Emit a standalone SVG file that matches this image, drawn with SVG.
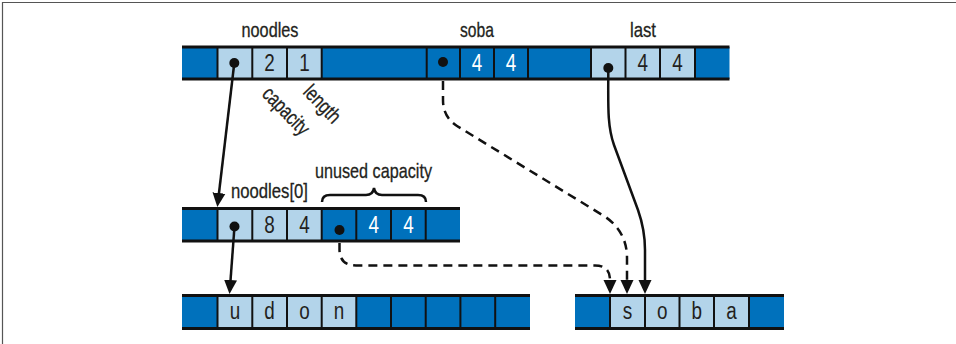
<svg xmlns="http://www.w3.org/2000/svg" width="956" height="344" viewBox="0 0 956 344">
<style>
.dk{fill:#0071bc}
.lt{fill:#b3d4ea}
.hl{stroke:#111;stroke-width:3;fill:none}
.dv{stroke:#111;stroke-width:2;fill:none}
.lbl{font-family:"Liberation Sans",Arial,sans-serif;font-size:21px;fill:#231f20;stroke:#231f20;stroke-width:0.3}
.cell{font-family:"Liberation Sans",Arial,sans-serif;font-size:23px;fill:#231f20;text-anchor:middle}
.wt{fill:#ffffff}
.dot{fill:#111}
.con{stroke:#111;stroke-width:2.5;fill:none}
.dash{stroke-dasharray:9 6}
</style>
<defs>
<marker id="ah" markerUnits="userSpaceOnUse" markerWidth="14" markerHeight="14" viewBox="0 0 14 14" refX="10" refY="7" orient="auto">
<path d="M0,0.5 L14,7 L0,13.5 z" fill="#111"/>
</marker>
</defs>
<rect x="0" y="0" width="956" height="344" fill="#ffffff"/>
<path d="M2.5,344 V2.5 H956" stroke="#555" stroke-width="1.2" fill="none"/>

<g id="stack">
<rect class="dk" x="182" y="47" width="547.5" height="32"/>
<rect class="lt" x="217.5" y="47" width="104.2" height="32"/>
<rect class="lt" x="591" y="47" width="104" height="32"/>
<path class="dv" d="M217.5,47V79M252.3,47V79M287,47V79M321.7,47V79M426.7,47V79M460,47V79M494,47V79M528,47V79M591,47V79M625.5,47V79M660,47V79M695,47V79"/>
<path class="hl" d="M182,47H729.5M182,79H729.5"/>
<text class="lbl" x="270" y="37" text-anchor="middle" textLength="57" lengthAdjust="spacingAndGlyphs">noodles</text>
<text class="lbl" x="477" y="37" text-anchor="middle" textLength="34" lengthAdjust="spacingAndGlyphs">soba</text>
<text class="lbl" x="643" y="37" text-anchor="middle" textLength="26" lengthAdjust="spacingAndGlyphs">last</text>
<circle class="dot" cx="234.3" cy="63" r="5"/>
<text class="cell" x="269.6" y="71" textLength="10.5" lengthAdjust="spacingAndGlyphs">2</text>
<text class="cell" x="304.4" y="71" textLength="10.5" lengthAdjust="spacingAndGlyphs">1</text>
<circle class="dot" cx="443" cy="62" r="5"/>
<text class="cell wt" x="477" y="71" textLength="10.5" lengthAdjust="spacingAndGlyphs">4</text>
<text class="cell wt" x="511" y="71" textLength="10.5" lengthAdjust="spacingAndGlyphs">4</text>
<circle class="dot" cx="608.3" cy="68" r="5"/>
<text class="cell" x="642.7" y="71" textLength="10.5" lengthAdjust="spacingAndGlyphs">4</text>
<text class="cell" x="677.5" y="71" textLength="10.5" lengthAdjust="spacingAndGlyphs">4</text>
<text class="lbl" transform="translate(261,95) rotate(46)" textLength="58" lengthAdjust="spacingAndGlyphs">capacity</text>
<text class="lbl" transform="translate(302,93) rotate(46)" textLength="44" lengthAdjust="spacingAndGlyphs">length</text>
</g>

<g id="noodles-buffer">
<rect class="dk" x="182" y="208.5" width="278" height="32.5"/>
<rect class="lt" x="217.5" y="208.5" width="104.2" height="32.5"/>
<path class="dv" d="M217.5,208.5V241M252.3,208.5V241M287,208.5V241M321.7,208.5V241M356.3,208.5V241M391,208.5V241M425.7,208.5V241"/>
<path class="hl" d="M182,208.5H460M182,241H460"/>
<text class="lbl" x="231" y="198" textLength="77" lengthAdjust="spacingAndGlyphs">noodles[0]</text>
<text class="lbl" x="315" y="178" textLength="117" lengthAdjust="spacingAndGlyphs">unused capacity</text>
<path d="M322,202 Q322,195 330,195 L366,195 Q373,195 374,188 Q375,195 382,195 L418,195 Q426,195 426,202" stroke="#111" stroke-width="2.5" fill="none"/>
<circle class="dot" cx="234.5" cy="226.5" r="5"/>
<text class="cell" x="269.6" y="233" textLength="10.5" lengthAdjust="spacingAndGlyphs">8</text>
<text class="cell" x="304.4" y="233" textLength="10.5" lengthAdjust="spacingAndGlyphs">4</text>
<circle class="dot" cx="339.5" cy="230" r="5"/>
<text class="cell wt" x="373.7" y="233" textLength="10.5" lengthAdjust="spacingAndGlyphs">4</text>
<text class="cell wt" x="408.4" y="233" textLength="10.5" lengthAdjust="spacingAndGlyphs">4</text>
</g>

<g id="udon">
<rect class="dk" x="182" y="295.5" width="348" height="33"/>
<rect class="lt" x="217.5" y="295.5" width="138.8" height="33"/>
<path class="dv" d="M217.5,295.5V328.5M252.3,295.5V328.5M287,295.5V328.5M321.7,295.5V328.5M356.3,295.5V328.5M391,295.5V328.5M425.7,295.5V328.5M460.4,295.5V328.5M495.2,295.5V328.5"/>
<path class="hl" d="M182,295.5H530M182,328.5H530"/>
<text class="cell" x="234.9" y="319" textLength="10.5" lengthAdjust="spacingAndGlyphs">u</text>
<text class="cell" x="269.6" y="319" textLength="10.5" lengthAdjust="spacingAndGlyphs">d</text>
<text class="cell" x="304.4" y="319" textLength="10.5" lengthAdjust="spacingAndGlyphs">o</text>
<text class="cell" x="339" y="319" textLength="10.5" lengthAdjust="spacingAndGlyphs">n</text>
</g>

<g id="soba-text">
<rect class="dk" x="575" y="295.5" width="209" height="33"/>
<rect class="lt" x="610" y="295.5" width="139" height="33"/>
<path class="dv" d="M610,295.5V328.5M645,295.5V328.5M679.5,295.5V328.5M714,295.5V328.5M749,295.5V328.5"/>
<path class="hl" d="M575,295.5H784M575,328.5H784"/>
<text class="cell" x="627.5" y="319" textLength="9.5" lengthAdjust="spacingAndGlyphs">s</text>
<text class="cell" x="662.2" y="319" textLength="10.5" lengthAdjust="spacingAndGlyphs">o</text>
<text class="cell" x="696.7" y="319" textLength="10.5" lengthAdjust="spacingAndGlyphs">b</text>
<text class="cell" x="731.5" y="319" textLength="10.5" lengthAdjust="spacingAndGlyphs">a</text>
</g>

<g id="connectors">
<path class="con" d="M234.3,63 L217.8,203" marker-end="url(#ah)"/>
<path class="con" d="M234.5,226.5 L229.8,290" marker-end="url(#ah)"/>
<path class="con dash" d="M443,81 L443,100 Q443,117 457,126 L604,216 Q627,231 627,258 L627,290" marker-end="url(#ah)"/>
<path class="con dash" d="M339.5,243 L339.5,250 Q340,265.5 356,265.5 L595,265.5 Q610,265.5 610,280 L610,290" marker-end="url(#ah)"/>
<path class="con" d="M608.3,68 C608.3,105 607,125 614,145 L638,210 Q645,230 645,250 L645,290" marker-end="url(#ah)"/>
</g>
</svg>
